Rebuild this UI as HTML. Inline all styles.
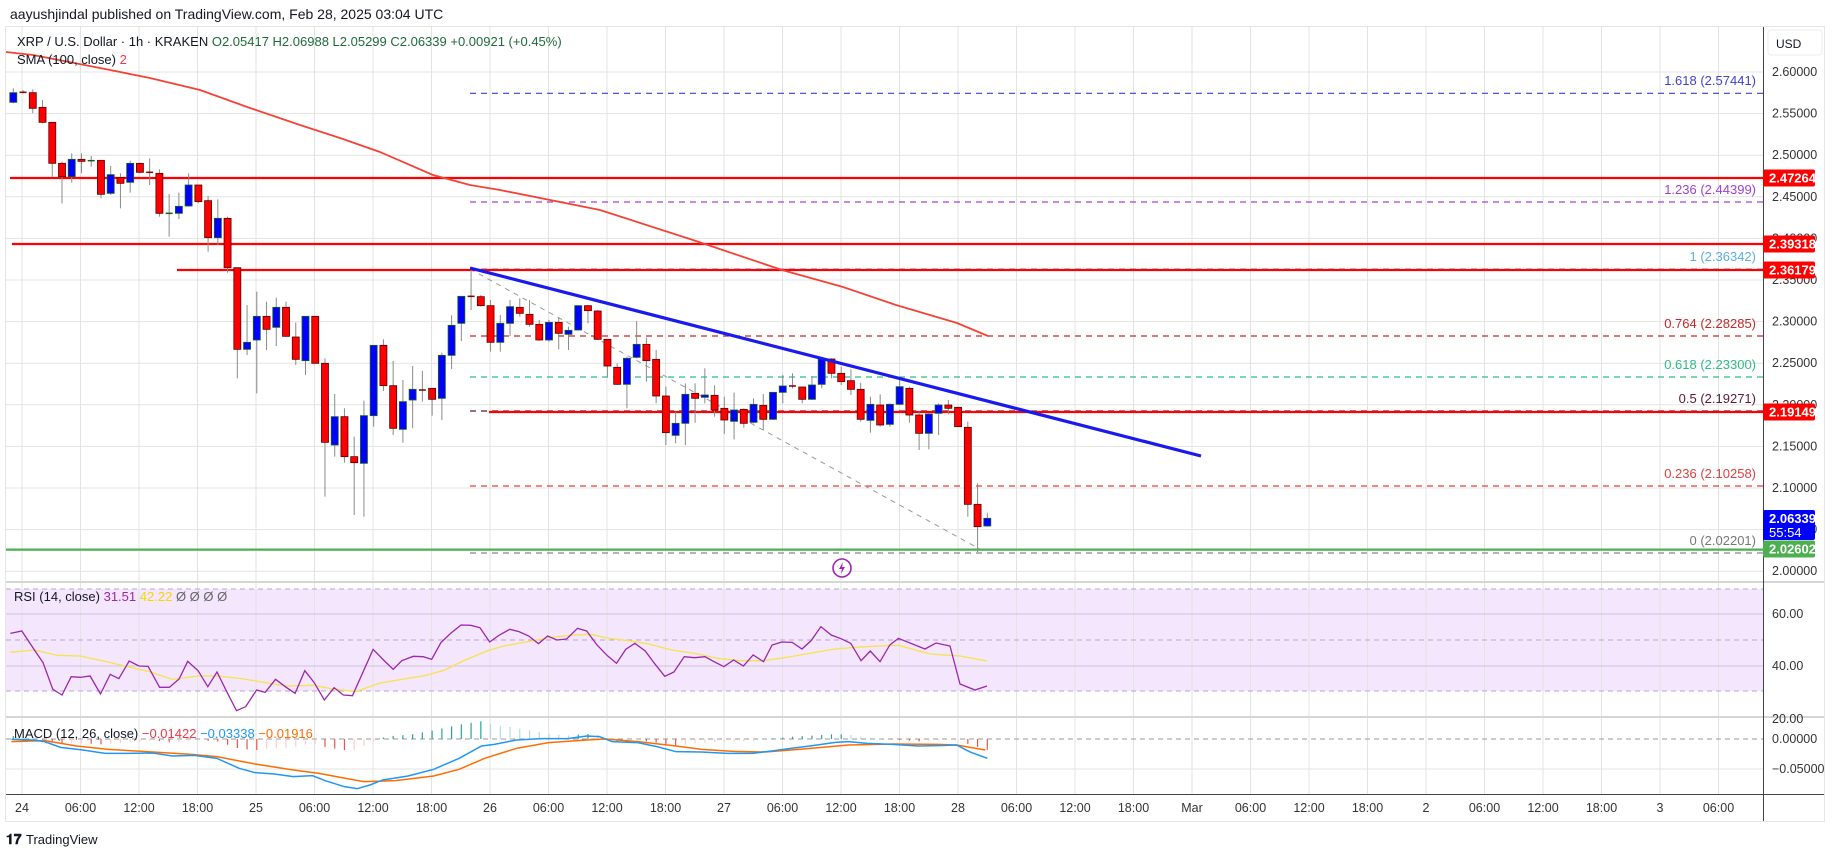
<!DOCTYPE html>
<html><head><meta charset="utf-8"><style>
html,body{margin:0;padding:0;background:#fff;width:1835px;height:857px;overflow:hidden}
svg{display:block;font-family:"Liberation Sans","DejaVu Sans",sans-serif}
</style></head><body>
<svg id="s" width="1835" height="857" viewBox="0 0 1835 857" xmlns="http://www.w3.org/2000/svg">
<rect x="0" y="0" width="1835" height="857" fill="#fff"/>
<rect x="5.5" y="26.5" width="1819" height="795" fill="#fff" stroke="#e6e6e6"/>
<rect x="6" y="589" width="1757" height="102" fill="#f3e6fd"/>
<g id="grid"></g>
<g id="over"></g>
<g id="txt" font-size="13" fill="#131722">
<text x="10" y="19" font-size="14">aayushjindal published on TradingView.com, Feb 28, 2025 03:04 UTC</text>
<text x="17" y="46" fill="#131722">XRP / U.S. Dollar · 1h · KRAKEN <tspan fill="#1e6b3a"> O2.05417  H2.06988  L2.05299  C2.06339  +0.00921 (+0.45%)</tspan></text>
<text x="17" y="64">SMA (100, close) <tspan fill="#f23645">2</tspan></text>
<text x="14" y="601">RSI (14, close) <tspan fill="#9c27b0">31.51</tspan> <tspan fill="#f5d800">42.22</tspan> <tspan fill="#666">Ø  Ø  Ø  Ø</tspan></text>
<text x="14" y="738">MACD (12, 26, close) <tspan fill="#f23645">−0.01422</tspan> <tspan fill="#2196f3">−0.03338</tspan> <tspan fill="#ff6d00">−0.01916</tspan></text>
</g>
<g id="axis" font-size="12.5" fill="#333"></g>
<g font-size="13" text-anchor="end">
<text x="1756" y="85" fill="#3f3fd6">1.618 (2.57441)</text>
<text x="1756" y="194" fill="#a040d8">1.236 (2.44399)</text>
<text x="1756" y="261" fill="#5aaee6">1 (2.36342)</text>
<text x="1756" y="328" fill="#c62828">0.764 (2.28285)</text>
<text x="1756" y="369" fill="#2ebd85">0.618 (2.23300)</text>
<text x="1756" y="403" fill="#5d1a30">0.5 (2.19271)</text>
<text x="1756" y="478" fill="#e04040">0.236 (2.10258)</text>
<text x="1756" y="545" fill="#777">0 (2.02201)</text>
</g>
<g id="labels" font-size="13" font-weight="bold" fill="#fff"></g>
<g font-size="12">
<rect x="1768" y="30" width="54" height="25" rx="3" fill="#fff" stroke="#eee"/>
<text x="1776" y="48" fill="#131722">USD</text>
</g>
<g transform="translate(842,568)">
<circle r="9" fill="none" stroke="#9c27b0" stroke-width="1.6"/>
<path d="M1,-6 L-3,1 L0,1 L-1,6 L3,-1 L0,-1 Z" fill="#9c27b0"/>
</g>
<g font-size="13" fill="#131722">
<text x="6" y="844" font-weight="bold" font-size="14">𝟏𝟕</text>
<text x="26" y="844" font-size="13">TradingView</text>
</g>
</svg>
<script>
const NS="http://www.w3.org/2000/svg";
function el(p,t,a){const e=document.createElementNS(NS,t);for(const k in a)e.setAttribute(k,a[k]);p.appendChild(e);return e;}
const grid=document.getElementById('grid'),over=document.getElementById('over'),ax=document.getElementById('axis'),lab=document.getElementById('labels');
const Y=p=>72+(2.6-p)*832;
for(let k=0;k<=12;k++){const p=2.6-k*0.05;const y=Y(p);if(y>575)break;el(grid,'line',{x1:6,x2:1763,y1:y,y2:y,stroke:'#e3e3e3'});
 const t=el(ax,'text',{x:1772,y:y+4});t.textContent=p.toFixed(5);}
const tl=['24','06:00','12:00','18:00','25','06:00','12:00','18:00','26','06:00','12:00','18:00','27','06:00','12:00','18:00','28','06:00','12:00','18:00','Mar','06:00','12:00','18:00','2','06:00','12:00','18:00','3','06:00'];
tl.forEach((s,j)=>{const x=22+j*58.5;el(grid,'line',{x1:x,x2:x,y1:27,y2:794,stroke:'#e3e3e3'});const t=el(ax,'text',{x:x,y:812,'text-anchor':'middle'});t.textContent=s;});
[582,717].forEach(y=>el(grid,'line',{x1:6,x2:1824,y1:y,y2:y,stroke:'#d6d6d6','stroke-width':2}));
el(grid,'line',{x1:6,x2:1824,y1:794.5,y2:794.5,stroke:'#444'});
el(grid,'line',{x1:1763.5,x2:1763.5,y1:27,y2:821,stroke:'#444'});
[589,640,691].forEach(y=>el(grid,'line',{x1:6,x2:1763,y1:y,y2:y,stroke:'#b8a8c8','stroke-dasharray':'5,4'}));
[614,666].forEach(y=>el(grid,'line',{x1:6,x2:1763,y1:y,y2:y,stroke:'#d2c2e0'}));
[[614,'60.00'],[666,'40.00'],[719,'20.00']].forEach(a=>{const t=el(ax,'text',{x:1772,y:a[0]+4});t.textContent=a[1];});
el(grid,'line',{x1:6,x2:1763,y1:739,y2:739,stroke:'#999','stroke-dasharray':'5,4'});
el(grid,'line',{x1:6,x2:1763,y1:769,y2:769,stroke:'#e3e3e3'});
[[739,'0.00000'],[769,'−0.05000']].forEach(a=>{const t=el(ax,'text',{x:1772,y:a[0]+4});t.textContent=a[1];});
[[93.3,'#3f3fd6'],[202,'#a040d8'],[269,'#5aaee6'],[336,'#c62828'],[377,'#2ebd85'],[411,'#5d1a30'],[486,'#e04040'],[553,'#888']].forEach(a=>el(over,'line',{x1:470,x2:1763,y1:a[0],y2:a[0],stroke:a[1],'stroke-dasharray':'6,5','stroke-width':1.2}));
el(over,'line',{x1:470,y1:269,x2:987,y2:553,stroke:'#999','stroke-dasharray':'5,5'});
[[178,10],[244,12],[270,177],[412,489]].forEach(a=>el(over,'line',{x1:a[1],x2:1763,y1:a[0],y2:a[0],stroke:'#f00','stroke-width':2.2}));
el(over,'line',{x1:6,x2:1763,y1:549.6,y2:549.6,stroke:'#4caf50','stroke-width':2.2});
const sma=[[6,52],[33,55],[100,68],[150,78],[200,90],[250,108],[300,125],[340,138],[380,152],[433,175],[470,185],[500,190],[600,210],[693,240],[782,270],[843,287],[896,305],[957,323],[988,336]];
el(over,'polyline',{points:sma.map(p=>p.join(',')).join(' '),fill:'none',stroke:'#f44336','stroke-width':1.8});
const z6=[[158,187,145,190,'b'],[157,157,150,160,'r'],[158,205,148,220,'r'],[202,247,180,250,'r'],[247,370,247,410,'r'],[370,410,365,490,'r'],[358,410,340,428,'b'],[358,364,340,400,'r'],[362,362,348,380,'g'],[361,463,361,475,'r'],[404,460,378,465,'b'],[413,430,400,505,'r'],[370,427,362,458,'b'],[370,397,368,400,'r'],[397,397,355,435,'r'],[400,520,388,530,'r'],[520,520,462,590,'g'],[499,520,458,537,'b'],[435,498,400,500,'b'],[435,485,435,490,'r'],[482,593,468,635,'r'],[535,593,478,615,'b'],[535,683,530,698,'r'],[683,928,683,1015,'r'],[907,928,795,945,'b'],[829,900,755,1060,'b'],[829,868,785,930,'r'],[802,862,773,918,'b'],[802,889,785,890,'r'],[891,958,848,975,'r'],[829,962,829,1005,'b'],[829,970,829,970,'r'],[970,1207,955,1370,'r'],[1130,1215,1062,1250,'b'],[1130,1250,1105,1268,'r'],[1250,1268,1190,1425,'r'],[1127,1270,1082,1430,'b'],[916,1127,916,1160,'b'],[916,1037,898,1053,'r'],[1037,1165,963,1185,'r'],[1085,1168,1020,1208,'b'],[1048,1080,978,1165,'b'],[1050,1050,993,1085,'r'],[1045,1078,1045,1127,'r'],[946,1075,938,1140,'b'],[856,946,826,987,'b'],[769,850,769,903,'b'],[769,769,690,810,'r']];
const z7=[[170,197,165,200,'r'],[197,307,180,335,'r'],[250,307,225,335,'b'],[200,250,180,288,'b'],[202,220,175,230,'r'],[223,253,180,260,'r'],[253,300,240,302,'r'],[247,300,240,305,'b'],[247,280,232,328,'r'],[271,283,260,330,'b'],[197,270,195,272,'b'],[197,212,195,250,'r'],[213,298,210,300,'r'],[298,378,298,410,'r'],[382,433,370,435,'r'],[355,433,350,505,'b'],[313,352,243,355,'b'],[313,362,293,425,'r'],[358,468,330,490,'r'],[468,578,440,615,'r'],[550,586,515,610,'b'],[463,550,430,615,'b'],[460,475,430,548,'r'],[465,472,385,490,'b'],[466,510,436,530,'r'],[505,540,470,582,'r'],[510,544,458,598,'b'],[508,550,505,563,'r'],[493,547,475,550,'b'],[496,538,462,570,'r'],[457,538,457,540,'b'],[438,457,405,490,'b'],[438,438,400,445,'r'],[441,478,440,490,'r'],[435,478,408,480,'b'],[357,433,355,445,'b'],[357,400,355,415,'r'],[400,425,380,435,'r'],[422,448,388,465,'r'],[448,538,428,545,'r'],[493,541,470,578,'b'],[495,555,463,560,'r'],[493,553,490,560,'b'],[440,493,415,495,'b'],[445,525,440,548,'r'],[525,580,515,630,'r'],[522,580,520,628,'b'],[495,520,490,585,'b'],[495,505,480,523,'r'],[502,560,500,560,'r'],[562,793,545,830,'r'],[793,860,730,936,'r'],[835,858,818,860,'b']];
const C=[];z6.forEach(c=>C.push(c.slice(0,4).map(v=>40+v/3).concat([c[4]])));z7.forEach(c=>C.push(c.slice(0,4).map(v=>240+v/3).concat([c[4]])));
C.forEach((c,i)=>{const x=13.3+i*9.74;
 el(over,'line',{x1:x,x2:x,y1:c[2],y2:c[3],stroke:'#8a8a8a'});
 const h=c[1]-c[0];
 if(h<2){el(over,'line',{x1:x-3.5,x2:x+3.5,y1:c[0],y2:c[0],stroke:c[4]=='g'?'#1b5e20':'#800000','stroke-width':1.5});}
 else el(over,'rect',{x:x-3.5,y:c[0],width:7,height:h,fill:c[4]=='b'?'#0000ff':'#ff0000',stroke:c[4]=='b'?'#1b5e20':'#5a0000','stroke-width':0.8});
});
el(over,'line',{x1:470,y1:268,x2:1201,y2:456,stroke:'#1a1aee','stroke-width':3.2});
const rz=[[18,340],[38,333],[60,390],[75,428],[92,508],[108,525],[124,470],[140,472],[157,468],[175,522],[192,463],[207,476],[225,423],[242,438],[258,439],[278,502],[295,502],[312,477],[327,424],[345,452],[362,500],[378,456],[395,515],[412,572],[428,560],[447,510],[462,517],[480,478],[497,500],[514,520],[531,452],[547,487],[565,540],[582,503],[598,525],[614,527],[650,388],[668,420],[685,448],[700,422],[720,409],[737,410],[752,418],[768,368],[785,340],[803,315],[820,316],[836,323],[853,366],[870,345],[888,328],[904,335],[921,348],[938,371],[954,348],[970,360],[987,357],[1006,325],[1022,333],[1040,375],[1058,407],[1074,430],[1090,388],[1106,370],[1124,393],[1140,430],[1158,469],[1174,456],[1192,410],[1210,413],[1228,410],[1244,425],[1261,440],[1278,420],[1295,438],[1312,405],[1330,425],[1345,375],[1362,366],[1380,367],[1397,387],[1413,362],[1430,320],[1448,345],[1465,356],[1482,370],[1500,422],[1516,393],[1533,425],[1550,375],[1565,355]];
const rp=rz.map(p=>[p[0]/1.742,520+p[1]/3]).concat([[925,649],[936,643],[950,646],[960,684],[975,690],[987,686]]);
const yz=[[18,397],[60,390],[100,406],[140,408],[180,423],[230,443],[260,455],[300,478],[345,468],[380,468],[420,476],[460,487],[500,498],[545,496],[580,507],[620,515],[660,490],[700,478],[740,467],[775,450],[810,420],[850,392],[880,377],[920,365],[960,352],[1000,345],[1030,343],[1060,355],[1100,363],[1130,372],[1170,390],[1210,400],[1250,415],[1290,422],[1330,422],[1370,412],[1410,400],[1450,388],[1490,382],[1530,378],[1565,376]];
const yp=yz.map(p=>[p[0]/1.742,520+p[1]/3]).concat([[930,654],[960,656],[987,661]]);
el(over,'polyline',{points:yp.map(p=>p.join(',')).join(' '),fill:'none',stroke:'#f7e34a','stroke-width':1.3});
el(over,'polyline',{points:rp.map(p=>p.join(',')).join(' '),fill:'none',stroke:'#9c27b0','stroke-width':1.3});
const mz=[[18,148],[50,150],[70,155],[95,172],[130,180],[165,190],[200,190],[240,189],[270,198],[305,196],[340,205],[375,235],[400,248],[430,252],[460,260],[490,257],[510,272],[540,290],[560,296],[580,285],[600,270],[640,258],[680,238],[720,205],[755,168],[775,163],[810,150],[850,146],[890,146],[920,138],[940,140],[960,155],[1000,158],[1030,170],[1060,185],[1100,186],[1140,190],[1180,190],[1210,183],[1240,175],[1270,168],[1310,157],[1330,155],[1360,160],[1400,163],[1440,168],[1470,167],[1500,165],[1520,185],[1548,205]];
const sz=[[18,155],[70,152],[120,168],[170,178],[230,185],[300,193],[340,200],[400,222],[460,240],[500,250],[570,275],[620,272],[680,258],[720,238],[760,205],[810,175],[860,158],[920,150],[950,147],[1000,155],[1060,168],[1100,178],[1150,184],[1200,186],[1260,177],[1330,165],[1400,162],[1470,163],[1500,165],[1545,180]];
const mp=mz.map(p=>[p[0]/1.568,690+p[1]/3]),sp=sz.map(p=>[p[0]/1.568,690+p[1]/3]);
function interp(a,x){for(let i=1;i<a.length;i++)if(a[i][0]>=x){const t=(x-a[i-1][0])/(a[i][0]-a[i-1][0]);return a[i-1][1]+t*(a[i][1]-a[i-1][1]);}return a[a.length-1][1];}
let prev=0;
for(let i=0;i<101;i++){const x=13.3+i*9.74;const d=(interp(sp,x)-interp(mp,x))*1.3;
 const col=d>=0?(d>=prev?'#26a69a':'#b2dfdb'):(d<=prev?'#ef5350':'#ffcdd2');prev=d;
 el(over,'line',{x1:x,x2:x,y1:739,y2:739-d,stroke:col,'stroke-width':1.2});}
el(over,'polyline',{points:sp.map(p=>p.join(',')).join(' '),fill:'none',stroke:'#ff6d00','stroke-width':1.5});
el(over,'polyline',{points:mp.map(p=>p.join(',')).join(' '),fill:'none',stroke:'#2196f3','stroke-width':1.5});
[[178,'2.47264','#f00'],[244,'2.39318','#f00'],[270,'2.36179','#f00'],[412,'2.19149','#f00'],[549,'2.02602','#4caf50']].forEach(a=>{
 el(lab,'rect',{x:1763,y:a[0]-8.5,width:52,height:17,fill:a[2],rx:2});const t=el(lab,'text',{x:1769,y:a[0]+4.5});t.textContent=a[1];});
el(lab,'rect',{x:1763,y:510,width:52,height:30,fill:'#0000ff',rx:2});
const t1=el(lab,'text',{x:1769,y:523});t1.textContent='2.06339';
const t2=el(lab,'text',{x:1769,y:537,'font-weight':'normal'});t2.textContent='55:54';
</script>
</body></html>
